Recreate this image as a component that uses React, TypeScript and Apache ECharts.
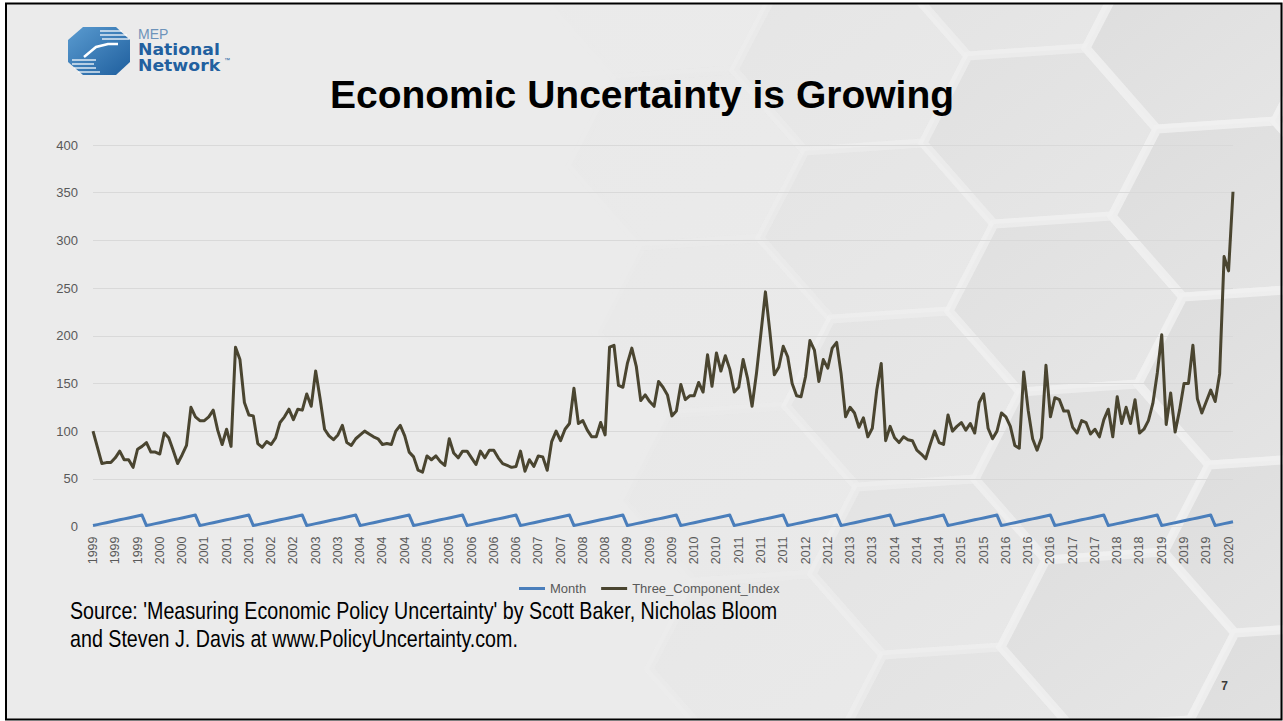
import React, { useEffect, useRef } from "react";
import * as echarts from "echarts";

// Category (year of each monthly observation), Jan 1999 .. May 2020
const CATEGORIES = [
  "1999","1999","1999","1999","1999","1999","1999","1999","1999","1999","1999","1999",
  "2000","2000","2000","2000","2000","2000","2000","2000","2000","2000","2000","2000",
  "2001","2001","2001","2001","2001","2001","2001","2001","2001","2001","2001","2001",
  "2002","2002","2002","2002","2002","2002","2002","2002","2002","2002","2002","2002",
  "2003","2003","2003","2003","2003","2003","2003","2003","2003","2003","2003","2003",
  "2004","2004","2004","2004","2004","2004","2004","2004","2004","2004","2004","2004",
  "2005","2005","2005","2005","2005","2005","2005","2005","2005","2005","2005","2005",
  "2006","2006","2006","2006","2006","2006","2006","2006","2006","2006","2006","2006",
  "2007","2007","2007","2007","2007","2007","2007","2007","2007","2007","2007","2007",
  "2008","2008","2008","2008","2008","2008","2008","2008","2008","2008","2008","2008",
  "2009","2009","2009","2009","2009","2009","2009","2009","2009","2009","2009","2009",
  "2010","2010","2010","2010","2010","2010","2010","2010","2010","2010","2010","2010",
  "2011","2011","2011","2011","2011","2011","2011","2011","2011","2011","2011","2011",
  "2012","2012","2012","2012","2012","2012","2012","2012","2012","2012","2012","2012",
  "2013","2013","2013","2013","2013","2013","2013","2013","2013","2013","2013","2013",
  "2014","2014","2014","2014","2014","2014","2014","2014","2014","2014","2014","2014",
  "2015","2015","2015","2015","2015","2015","2015","2015","2015","2015","2015","2015",
  "2016","2016","2016","2016","2016","2016","2016","2016","2016","2016","2016","2016",
  "2017","2017","2017","2017","2017","2017","2017","2017","2017","2017","2017","2017",
  "2018","2018","2018","2018","2018","2018","2018","2018","2018","2018","2018","2018",
  "2019","2019","2019","2019","2019","2019","2019","2019","2019","2019","2019","2019",
  "2020","2020","2020","2020","2020"
];

const MONTH = [
  1,2,3,4,5,6,7,8,9,10,11,12, 1,2,3,4,5,6,7,8,9,10,11,12,
  1,2,3,4,5,6,7,8,9,10,11,12, 1,2,3,4,5,6,7,8,9,10,11,12,
  1,2,3,4,5,6,7,8,9,10,11,12, 1,2,3,4,5,6,7,8,9,10,11,12,
  1,2,3,4,5,6,7,8,9,10,11,12, 1,2,3,4,5,6,7,8,9,10,11,12,
  1,2,3,4,5,6,7,8,9,10,11,12, 1,2,3,4,5,6,7,8,9,10,11,12,
  1,2,3,4,5,6,7,8,9,10,11,12, 1,2,3,4,5,6,7,8,9,10,11,12,
  1,2,3,4,5,6,7,8,9,10,11,12, 1,2,3,4,5,6,7,8,9,10,11,12,
  1,2,3,4,5,6,7,8,9,10,11,12, 1,2,3,4,5,6,7,8,9,10,11,12,
  1,2,3,4,5,6,7,8,9,10,11,12, 1,2,3,4,5,6,7,8,9,10,11,12,
  1,2,3,4,5,6,7,8,9,10,11,12, 1,2,3,4,5,6,7,8,9,10,11,12,
  1,2,3,4,5,6,7,8,9,10,11,12,
  1,2,3,4,5
];

const THREE_COMPONENT_INDEX = [
  100, 83, 66, 67, 67, 72, 79, 70, 70, 62, 81, 84,
  88, 78, 78, 76, 98, 93, 80, 66, 75, 85, 125, 115,
  111, 111, 115, 122, 101, 86, 102, 84, 188, 175, 130, 117,
  116, 87, 83, 89, 86, 93, 109, 115, 123, 112, 123, 122,
  139, 126, 163, 134, 102, 95, 91, 96, 106, 88, 85, 92,
  96, 100, 97, 94, 92, 86, 87, 86, 100, 106, 95, 78,
  73, 59, 57, 74, 70, 74, 68, 64, 92, 77, 72, 79,
  79, 72, 65, 79, 72, 80, 80, 72, 66, 64, 62, 63,
  79, 58, 70, 63, 74, 73, 59, 89, 100, 90, 102, 108,
  145, 108, 111, 101, 94, 94, 109, 96, 188, 190, 148, 146,
  171, 187, 168, 132, 138, 131, 126, 152, 146, 138, 116, 121,
  149, 133, 137, 137, 151, 141, 180, 147, 182, 163, 179, 165,
  141, 146, 175, 155, 126, 161, 203, 246, 204, 159, 167, 189,
  178, 150, 137, 136, 157, 195, 185, 152, 175, 166, 187, 193,
  160, 115, 125, 119, 104, 114, 94, 103, 143, 171, 90, 105,
  93, 88, 94, 91, 90, 80, 76, 71, 86, 100, 88, 86,
  117, 100, 105, 109, 101, 108, 98, 130, 139, 103, 92, 100,
  119, 115, 105, 85, 82, 162, 122, 92, 80, 93, 169, 115,
  135, 133, 121, 121, 104, 98, 111, 109, 97, 102, 94, 112,
  123, 94, 136, 108, 125, 108, 133, 98, 102, 111, 129, 161,
  201, 107, 140, 99, 122, 150, 150, 190, 134, 119, 131, 143,
  131, 160, 283, 268, 351
];

const SERIES_NAMES = ["Month", "Three_Component_Index"];
const Y_MIN = 0;
const Y_MAX = 400;
const Y_STEP = 50;
const X_LABEL_INTERVAL = 4;

const TITLE = "Economic Uncertainty is Growing";
const SOURCE_LINE_1 = "Source: 'Measuring Economic Policy Uncertainty' by Scott Baker, Nicholas Bloom";
const SOURCE_LINE_2 = "and Steven J. Davis at www.PolicyUncertainty.com.";
const PAGE_NUMBER = "7";

const SANS = '"Liberation Sans", Arial, sans-serif';
const LOGO_FONT = '"DejaVu Sans", Verdana, sans-serif';

function buildHexagons(): any[] {
  const out: any[] = [];
  const A = [1040, 136];
  const U = [163, -95];
  const V = [26, 168];
  const VERTS = [[117, -7], [72, 80], [-46, 88], [-117, 7], [-72, -80], [46, -88]];
  for (let m = -7; m <= 5; m++) {
    for (let n = -5; n <= 7; n++) {
      const cx = A[0] + m * U[0] + n * V[0];
      const cy = A[1] + m * U[1] + n * V[1];
      if (cx < 450 || cx > 1450 || cy < -130 || cy > 860) continue;
      const op = Math.max(0, Math.min(1, (cx - 620) / 560));
      if (op <= 0) continue;
      out.push({
        type: "polygon",
        z: -50,
        silent: true,
        shape: { points: VERTS.map(([dx, dy]) => [cx + dx, cy + dy]) },
        style: {
          fill: new echarts.graphic.LinearGradient(0, 0, 1, 1, [
            { offset: 0, color: "#dadada" },
            { offset: 1, color: "#e5e5e5" },
          ]),
          stroke: "#f0f0f0",
          lineWidth: 9,
          opacity: op * 0.85,
        },
      });
    }
  }
  return out;
}

function buildLogo(): any[] {
  const oct = [[83, 27], [116, 27], [130, 40], [130, 62], [116, 75], [83, 75], [68, 62], [68, 40]];
  const els: any[] = [
    {
      type: "polygon",
      z: 50,
      silent: true,
      shape: { points: oct },
      style: {
        fill: new echarts.graphic.LinearGradient(0, 0, 1, 1, [
          { offset: 0, color: "#5a9bd0" },
          { offset: 1, color: "#1f5f9e" },
        ]),
      },
    },
  ];
  const stripes = [
    [[72, 60], [96, 60]],
    [[72, 64], [94, 64]],
    [[74, 68], [96, 68]],
    [[78, 72], [100, 72]],
    [[100, 31], [122, 31]],
    [[100, 35], [127, 35]],
    [[102, 39], [129, 39]],
  ];
  stripes.forEach((s) => {
    els.push({
      type: "line",
      z: 51,
      silent: true,
      shape: { x1: s[0][0], y1: s[0][1], x2: s[1][0], y2: s[1][1] },
      style: { stroke: "#ffffff", lineWidth: 1.4, opacity: 0.9 },
    });
  });
  els.push({
    type: "polyline",
    z: 51,
    silent: true,
    shape: { points: [[84, 57], [96, 47], [108, 44], [118, 44]] },
    style: { stroke: "#ffffff", lineWidth: 2.5, fill: null },
  });
  els.push({
    type: "text",
    z: 51,
    x: 138,
    y: 33.5,
    style: { text: "MEP", fontFamily: SANS, fontSize: 14, fill: "#6d93ba", verticalAlign: "middle" },
  });
  els.push({
    type: "text",
    z: 51,
    x: 138,
    y: 50,
    scaleX: 1.15,
    style: { text: "National", fontFamily: LOGO_FONT, fontWeight: "bold", fontSize: 15, fill: "#22609f", verticalAlign: "middle" },
  });
  els.push({
    type: "text",
    z: 51,
    x: 138,
    y: 65.5,
    scaleX: 1.15,
    style: { text: "Network", fontFamily: LOGO_FONT, fontWeight: "bold", fontSize: 15, fill: "#22609f", verticalAlign: "middle" },
  });
  els.push({
    type: "text",
    z: 51,
    x: 224,
    y: 60,
    style: { text: "™", fontFamily: SANS, fontSize: 6, fill: "#22609f", verticalAlign: "middle" },
  });
  return els;
}

export default function App() {
  const ref = useRef<HTMLDivElement>(null);

  useEffect(() => {
    if (!ref.current) return;
    const chart = echarts.init(ref.current, null, { renderer: "svg" });

    const graphics: any[] = [
      {
        type: "rect",
        z: -100,
        silent: true,
        shape: { x: 0, y: 0, width: 1283, height: 721 },
        style: { fill: "#ebebeb" },
      },
      ...buildHexagons(),
      {
        type: "rect",
        z: -40,
        silent: true,
        shape: { x: 0, y: 0, width: 1283, height: 3 },
        style: { fill: "#ffffff" },
      },
      {
        type: "rect",
        z: -40,
        silent: true,
        shape: { x: 0, y: 720, width: 1283, height: 1 },
        style: { fill: "#ffffff" },
      },
      {
        type: "rect",
        z: -40,
        silent: true,
        shape: { x: 0, y: 0, width: 5, height: 721 },
        style: { fill: "#ffffff" },
      },
      {
        type: "rect",
        z: 60,
        silent: true,
        shape: { x: 6, y: 3.5, width: 1275.5, height: 716 },
        style: { fill: null, stroke: "#000000", lineWidth: 2 },
      },
      ...buildLogo(),
      {
        type: "text",
        z: 60,
        x: 642,
        y: 94,
        style: {
          text: TITLE,
          fontFamily: SANS,
          fontWeight: "bold",
          fontSize: 39,
          fill: "#000000",
          align: "center",
          verticalAlign: "middle",
        },
      },
      {
        type: "text",
        z: 60,
        x: 70,
        y: 611,
        scaleX: 0.82,
        style: { text: SOURCE_LINE_1, fontFamily: SANS, fontSize: 24, fill: "#000000", verticalAlign: "middle" },
      },
      {
        type: "text",
        z: 60,
        x: 70,
        y: 639,
        scaleX: 0.82,
        style: { text: SOURCE_LINE_2, fontFamily: SANS, fontSize: 24, fill: "#000000", verticalAlign: "middle" },
      },
      {
        type: "text",
        z: 60,
        x: 1224.5,
        y: 686,
        style: { text: PAGE_NUMBER, fontFamily: SANS, fontSize: 12, fontWeight: "bold", fill: "#3a3a3a", align: "center", verticalAlign: "middle" },
      },
    ];

    const option: any = {
      animation: false,
      backgroundColor: "#ffffff",
      graphic: { elements: graphics },
      grid: { left: 93, top: 145, width: 1140, height: 381.5, containLabel: false },
      legend: {
        data: SERIES_NAMES,
        left: 514,
        top: 577,
        icon: "rect",
        itemWidth: 26,
        itemHeight: 3,
        itemGap: 15,
        textStyle: { fontFamily: SANS, fontSize: 13, color: "#595959" },
      },
      xAxis: {
        type: "category",
        data: CATEGORIES,
        boundaryGap: false,
        axisTick: { show: false },
        axisLine: { lineStyle: { color: "#d9d9d9", width: 1 } },
        splitLine: { show: false },
        axisLabel: {
          rotate: 90,
          interval: X_LABEL_INTERVAL,
          margin: 10,
          fontFamily: SANS,
          fontSize: 12.5,
          color: "#595959",
        },
      },
      yAxis: {
        type: "value",
        min: Y_MIN,
        max: Y_MAX,
        interval: Y_STEP,
        axisLine: { show: false },
        axisTick: { show: false },
        splitLine: { lineStyle: { color: "#d9d9d9", width: 1 } },
        axisLabel: { margin: 15, fontFamily: SANS, fontSize: 13, color: "#595959" },
      },
      series: [
        {
          name: SERIES_NAMES[0],
          type: "line",
          data: MONTH,
          symbol: "none",
          showSymbol: false,
          lineStyle: { color: "#4a7ebb", width: 3, join: "round" },
          itemStyle: { color: "#4a7ebb" },
        },
        {
          name: SERIES_NAMES[1],
          type: "line",
          data: THREE_COMPONENT_INDEX,
          symbol: "none",
          showSymbol: false,
          lineStyle: { color: "#4a4530", width: 3, join: "round" },
          itemStyle: { color: "#4a4530" },
        },
      ],
    };

    chart.setOption(option);
    return () => chart.dispose();
  }, []);

  return (
    <div
      ref={ref}
      style={{ position: "fixed", left: 0, top: 0, width: 1283, height: 721 }}
    />
  );
}
